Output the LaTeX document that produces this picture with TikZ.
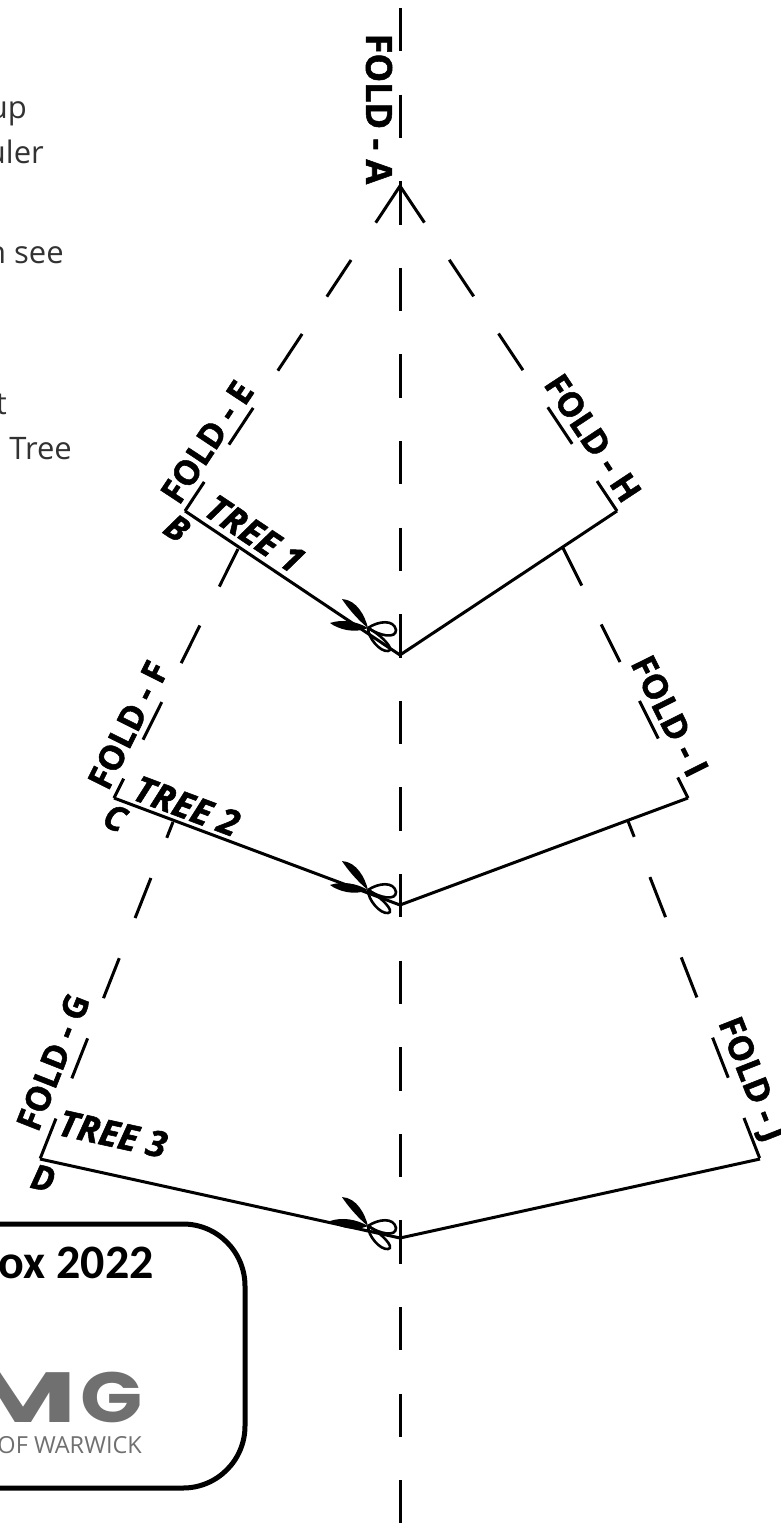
\documentclass[tikz,border=0pt]{standalone}
\usepackage{fontspec}
\setmainfont{Open Sans}[BoldFeatures={FakeBold=1.5}, BoldItalicFeatures={FakeBold=1.5}]
\newfontfamily\boxfont{Carlito}
\newfontfamily\logofont{Poppins}
\definecolor{bodyink}{RGB}{50, 50, 50}
\definecolor{logogrey}{RGB}{112, 112, 112}
\def\dashon{43.4pt}
\def\dashoff{43.2pt}
\tikzset{
 foldline/.style={line width=3pt, dash pattern=on \dashon off \dashoff},
 cutline/.style={line width=3pt, line join=miter},
 foldlabel/.style={font=\fontsize{34}{34}\selectfont\bfseries, inner sep=0pt},
 treelabel/.style={font=\fontsize{36}{36}\selectfont\bfseries\itshape, inner sep=0pt},
 cornerlabel/.style={font=\fontsize{34}{34}\selectfont\bfseries\itshape, inner sep=0pt},
 bodytext/.style={font=\fontsize{31}{31}\selectfont, text=bodyink, inner sep=0pt},
 scissors/.pic={
  \fill (0,0) .. controls (-3,-12) and (-11,-28) .. (-26,-29)
   .. controls (-21,-21) and (-10,-8) .. (0,0);
  \fill (0,0) .. controls (-12,-7) and (-26,-9) .. (-38,-5)
   .. controls (-30,1) and (-14,6) .. (0,0);
  \draw[line width=2.6pt] (0,0) .. controls (10,-7) and (26,-9) .. (28,2)
   .. controls (28,11) and (12,8) .. (0,0);
  \draw[line width=2.6pt] (0,0) .. controls (0,10) and (12,24) .. (20,23)
   .. controls (28,22) and (12,6) .. (0,0);
 }
}
\begin{document}
\begin{tikzpicture}[x=1pt, y=-1pt, line cap=butt]
 \useasboundingbox (0, 0) rectangle (781, 1523);

 % corners of the sheet
 \coordinate (top) at (400, 8);
 \coordinate (bottom) at (400, 1523);
 \coordinate (A) at (400, 186);
 \coordinate (B) at (185, 511);
 \coordinate (C) at (114, 798);
 \coordinate (D) at (40, 1159);
 \coordinate (H) at (617, 511);
 \coordinate (I) at (688, 798);
 \coordinate (J) at (760, 1159);
 \coordinate (cutone) at (400, 655);
 \coordinate (cuttwo) at (400, 905);
 \coordinate (cutthree) at (400, 1238);
 \coordinate (foldf) at (238, 549);
 \coordinate (foldg) at (173, 822);
 \coordinate (foldi) at (563, 548);
 \coordinate (foldj) at (628, 821);

 % fold lines
 \draw[foldline] (top) -- (bottom);
 \draw[foldline, dash pattern=on 44pt off 44.7pt] (A) -- (B);
 \draw[foldline, dash pattern=on 44pt off 44.7pt] (A) -- (H);
 \draw[foldline, dash pattern=on 42pt off 43.5pt] (foldf) -- (C);
 \draw[foldline, dash pattern=on 42pt off 43.5pt] (foldi) -- (I);
 \draw[foldline, dash pattern=on 43pt off 43.2pt, dash phase=26pt] (foldg) -- (D);
 \draw[foldline, dash pattern=on 43pt off 43.2pt, dash phase=26pt] (foldj) -- (J);

 % cuts
 \draw[cutline] (B) -- (cutone) -- (H);
 \draw[cutline] (C) -- (cuttwo) -- (I);
 \draw[cutline] (D) -- (cutthree) -- (J);

 \pic at (368, 628) {scissors};
 \pic at (368, 890) {scissors};
 \pic at (368, 1226) {scissors};

 \node[foldlabel, font=\fontsize{36}{36}\selectfont\bfseries, rotate=-90] (foldA) at (379, 109) {FOLD - A};
 \node[foldlabel, rotate=56.5] (foldE) at (207, 442) {FOLD - E};
 \node[foldlabel, rotate=63.5] (foldF) at (128, 725) {FOLD - F};
 \node[foldlabel, rotate=68.5] (foldG) at (53, 1062) {FOLD - G};
 \node[foldlabel, rotate=-56.5] (foldH) at (593, 438) {FOLD - H};
 \node[foldlabel, rotate=-63.5] (foldI) at (670, 716) {FOLD - I};
 \node[foldlabel, rotate=-68.5] (foldJ) at (750, 1080) {FOLD - J};

 \node[treelabel, rotate=-33.8] (treeone) at (255, 534) {TREE 1};
 \node[treelabel, rotate=-20.5] (treetwo) at (187, 806) {TREE 2};
 \node[treelabel, rotate=-12.4] (treethree) at (113, 1134) {TREE 3};
 \node[cornerlabel, rotate=-33.8] (cornerB) at (177, 528) {B};
 \node[cornerlabel, rotate=-20.5] (cornerC) at (115, 818) {C};
 \node[cornerlabel, rotate=-12.4] (cornerD) at (43, 1178) {D};

 % text cut by the page edge
 \node[bodytext, anchor=base east] (lineone) at (27, 118) {up};
 \node[bodytext, anchor=base east] (linetwo) at (44, 163) {uler};
 \node[bodytext, anchor=base east] (linethree) at (64, 263) {n see};
 \node[bodytext, anchor=base east] (linefour) at (7, 414) {t};
 \node[bodytext, anchor=base east] (linefive) at (72, 459) {Tree};

 % box
 \draw[line width=5pt, rounded corners=62pt] (-80, 1224) -- (245, 1224) -- (245, 1488) -- (-80, 1488);
 \node[font=\boxfont\fontsize{48}{48}\selectfont\bfseries, anchor=base east, inner sep=0pt] (boxtitle) at (154, 1278) {ox 2022};
 \node[font=\logofont\fontsize{71}{71}\selectfont\bfseries, text=logogrey, anchor=base east, inner sep=0pt] (logo) at (143, 1422) {\scalebox{1.65}[1]{M}\kern4pt\scalebox{1.15}[1]{G}};
 \node[font=\fontsize{23.5}{23.5}\selectfont, text=logogrey, anchor=base east, inner sep=0pt] (logotext) at (142, 1453) {OF WARWICK};
\end{tikzpicture}
\end{document}
